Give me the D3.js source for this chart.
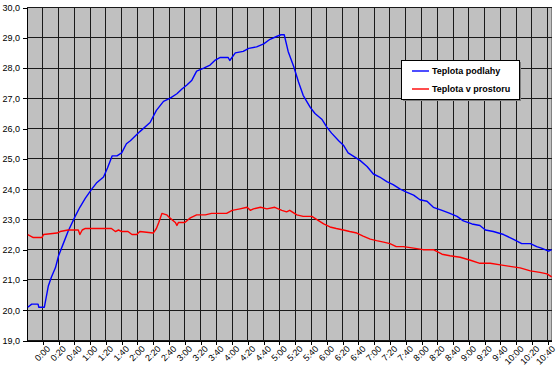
<!DOCTYPE html>
<html>
<head>
<meta charset="utf-8">
<script src="https://cdn.jsdelivr.net/npm/d3@7"></script>
<style>
  body { margin: 0; background: #fff; }
  svg { display: block; font-family: "Liberation Sans", Arial, sans-serif; }
  .axis text { font-size: 9px; fill: #000; }
  .axis path, .axis line { stroke: #000; shape-rendering: crispEdges; }
  .grid line { stroke: #1a1a1a; shape-rendering: crispEdges; }
  .line { fill: none; stroke-width: 1.4; stroke-linejoin: round; }
  .legend text { font-size: 9px; font-weight: bold; }
</style>
</head>
<body>
<div id="chart"></div>
<script>
// minutes from 0:00
const floorTimes = [-19, -14, -6, -5, 2, 7, 11, 16, 20, 26, 32, 41, 47, 54, 62, 68, 77, 82, 88, 94, 100, 106,
  111, 123, 136, 144, 153, 161, 170, 176, 183, 189, 195, 204, 212, 218, 225, 235, 237, 244, 254, 261, 271,
  280, 288, 297, 302, 306, 311, 318, 324, 330, 339, 345, 354, 360, 366, 375, 381, 387, 396, 402, 411, 419,
  427, 436, 444, 453, 461, 470, 478, 487, 495, 506, 516, 525, 533, 544, 554, 561, 571, 584, 596, 607, 618,
  626, 632, 641, 645];
const floorTemps = [20.1, 20.2, 20.2, 20.1, 20.1, 20.8, 21.1, 21.4, 21.8, 22.2, 22.6, 23.1, 23.4, 23.7, 24.0,
  24.2, 24.4, 24.7, 25.1, 25.1, 25.2, 25.5, 25.6, 25.9, 26.2, 26.6, 26.9, 27.0, 27.15, 27.3, 27.45, 27.6,
  27.9, 28.0, 28.1, 28.25, 28.35, 28.35, 28.25, 28.5, 28.55, 28.65, 28.7, 28.8, 28.95, 29.05, 29.1, 29.1,
  28.55, 28.05, 27.55, 27.1, 26.7, 26.5, 26.3, 26.05, 25.85, 25.6, 25.45, 25.2, 25.05, 24.95, 24.75, 24.5,
  24.4, 24.25, 24.15, 24.0, 23.9, 23.8, 23.65, 23.6, 23.4, 23.3, 23.2, 23.1, 22.95, 22.85, 22.8, 22.65,
  22.6, 22.5, 22.35, 22.2, 22.2, 22.1, 22.05, 21.95, 22.0];

const airTimes = [-19, -12, -1, 1, 18, 22, 32, 39, 45, 47, 50, 54, 87, 92, 96, 100, 108, 113, 119, 123, 140,
  144, 147, 151, 157, 161, 168, 170, 172, 180, 187, 195, 206, 214, 223, 233, 240, 250, 259, 263, 267, 276,
  284, 294, 303, 309, 313, 322, 330, 341, 347, 356, 364, 372, 381, 389, 398, 406, 415, 423, 432, 440, 448,
  457, 470, 482, 495, 506, 516, 529, 542, 554, 567, 580, 592, 605, 618, 630, 639, 645];
const airTemps = [22.5, 22.4, 22.4, 22.5, 22.55, 22.6, 22.65, 22.65, 22.65, 22.5, 22.65, 22.7, 22.7, 22.6,
  22.65, 22.6, 22.6, 22.5, 22.5, 22.6, 22.55, 22.7, 22.9, 23.2, 23.15, 23.05, 22.9, 22.8, 22.9, 22.9, 23.05,
  23.15, 23.15, 23.2, 23.2, 23.2, 23.3, 23.35, 23.4, 23.3, 23.35, 23.4, 23.35, 23.4, 23.3, 23.25, 23.3,
  23.15, 23.1, 23.1, 23.0, 22.85, 22.75, 22.7, 22.65, 22.6, 22.55, 22.45, 22.35, 22.3, 22.25, 22.2, 22.1,
  22.1, 22.05, 22.0, 22.0, 21.85, 21.8, 21.75, 21.65, 21.55, 21.55, 21.5, 21.45, 21.4, 21.3, 21.25, 21.2, 21.1];

const seriesNames = ["Teplota podlahy", "Teplota v prostoru"];
const seriesColors = ["#0000ff", "#ff0000"];

const yTickValues = [19, 20, 21, 22, 23, 24, 25, 26, 27, 28, 29, 30];
const xTickLabels = ["0:00", "0:20", "0:40", "1:00", "1:20", "1:40", "2:00", "2:20", "2:40", "3:00", "3:20",
  "3:40", "4:00", "4:20", "4:40", "5:00", "5:20", "5:40", "6:00", "6:20", "6:40", "7:00", "7:20", "7:40",
  "8:00", "8:20", "8:40", "9:00", "9:20", "9:40", "10:00", "10:20", "10:40"];

const width = 558, height = 372;
const plot = {left: 27, top: 7.5, right: 551.7, bottom: 340.5};

const toMinutes = s => {
  const [h, m] = s.split(":").map(Number);
  return h * 60 + m;
};

const xScale = d3.scaleLinear().domain([-20, 645]).range([plot.left, plot.right]);
const yScale = d3.scaleLinear().domain([19, 30]).range([plot.bottom, plot.top]);

const svg = d3.select("#chart").append("svg")
  .attr("width", width)
  .attr("height", height);

// plot area
svg.append("rect")
  .attr("x", plot.left)
  .attr("y", plot.top)
  .attr("width", plot.right - plot.left)
  .attr("height", plot.bottom - plot.top)
  .attr("fill", "#c0c0c0")
  .attr("stroke", "#808080")
  .attr("shape-rendering", "crispEdges");

// grid
const grid = svg.append("g").attr("class", "grid");
grid.selectAll(".h")
  .data(yTickValues)
  .enter().append("line")
  .attr("x1", plot.left).attr("x2", plot.right)
  .attr("y1", d => yScale(d)).attr("y2", d => yScale(d));
grid.selectAll(".v")
  .data(xTickLabels.map(toMinutes))
  .enter().append("line")
  .attr("x1", d => xScale(d)).attr("x2", d => xScale(d))
  .attr("y1", plot.top).attr("y2", plot.bottom);

// axes
svg.append("g")
  .attr("class", "y axis")
  .attr("transform", `translate(${plot.left},0)`)
  .call(
    d3.axisLeft(yScale)
      .tickValues(yTickValues)
      .tickSize(4)
      .tickPadding(3)
      .tickFormat(d => d3.format(".1f")(d).replace(".", ","))
  );

svg.append("g")
  .attr("class", "x axis")
  .attr("transform", `translate(0,${plot.bottom})`)
  .call(
    d3.axisBottom(xScale)
      .tickValues(xTickLabels.map(toMinutes))
      .tickSize(4)
      .tickSizeOuter(0)
      .tickFormat((d, i) => xTickLabels[i])
  )
  .selectAll("text")
  .attr("text-anchor", "end")
  .attr("dx", "0.2em")
  .attr("dy", "0.2em")
  .attr("transform", "translate(0,4) rotate(-45)");

svg.selectAll(".axis .domain").attr("stroke", "#000");

// lines
const line = d3.line()
  .x(d => xScale(d[0]))
  .y(d => yScale(d[1]));

const datasets = [
  floorTimes.map((t, i) => [t, floorTemps[i]]),
  airTimes.map((t, i) => [t, airTemps[i]])
];

datasets.forEach((dataset, index) => {
  svg.append("path")
    .datum(dataset)
    .attr("class", `line line-${index}`)
    .attr("stroke", seriesColors[index])
    .attr("d", line);
});

// legend
const legend = svg.append("g")
  .attr("class", "legend")
  .attr("transform", "translate(401,60)");

legend.append("rect")
  .attr("x", 2).attr("y", 2)
  .attr("width", 118).attr("height", 39)
  .attr("fill", "#808080");
legend.append("rect")
  .attr("x", 0.5).attr("y", 0.5)
  .attr("width", 118).attr("height", 39)
  .attr("fill", "#fff")
  .attr("stroke", "#000");

seriesNames.forEach((name, i) => {
  const y = 11 + i * 18;
  legend.append("line")
    .attr("x1", 11).attr("x2", 28)
    .attr("y1", y).attr("y2", y)
    .attr("stroke", seriesColors[i])
    .attr("stroke-width", 1.4);
  legend.append("text")
    .attr("x", 31).attr("y", y)
    .attr("dy", "0.35em")
    .text(name);
});
</script>
</body>
</html>
